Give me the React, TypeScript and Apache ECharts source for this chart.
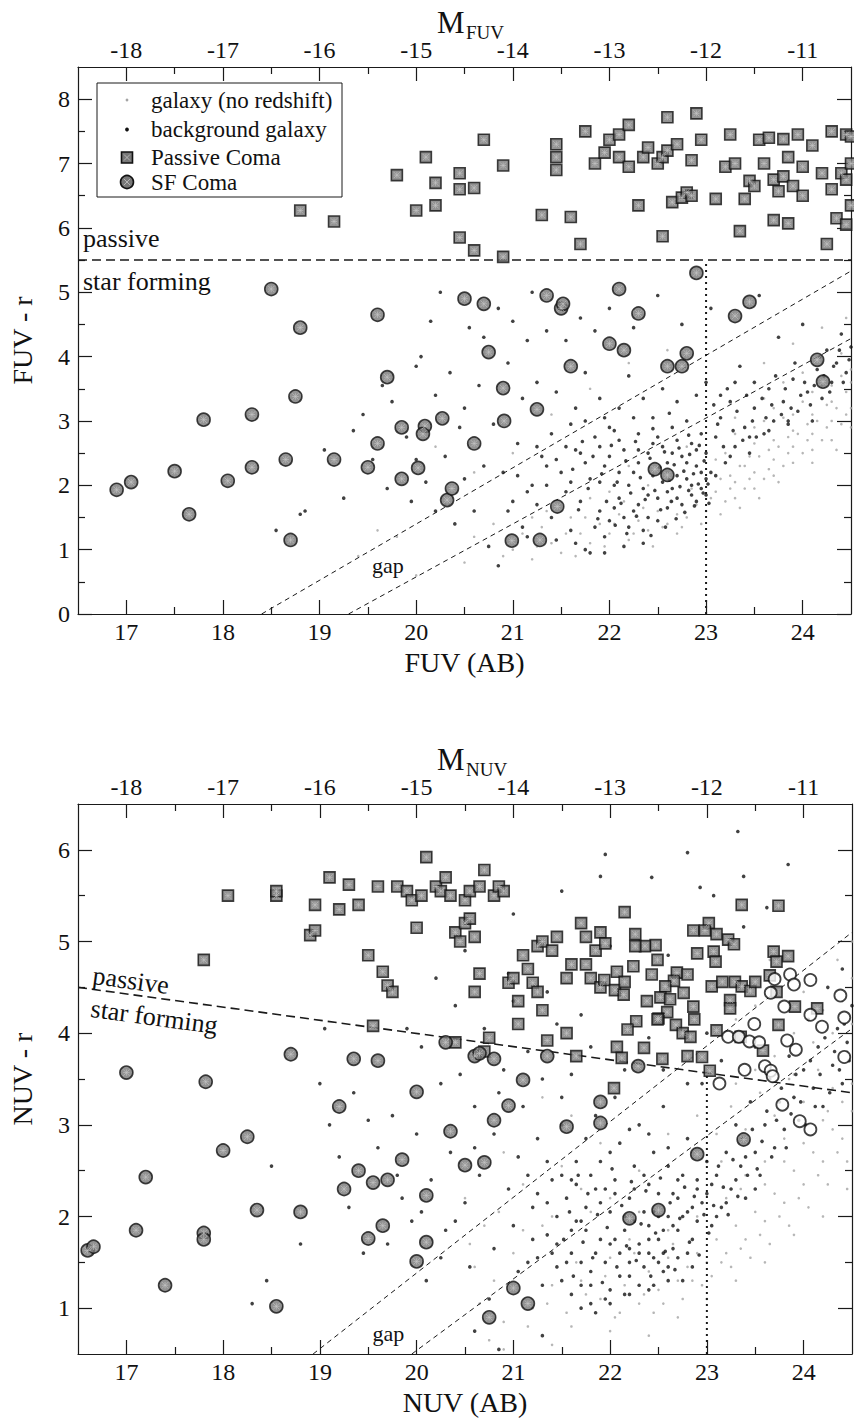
import React, { useEffect, useRef } from "react";
import * as echarts from "echarts";

const FONT = "Liberation Serif";

// ---------- tick values ----------
const MAG_TICKS = [17, 18, 19, 20, 21, 22, 23, 24];
const MAG_MINOR = [17.5, 18.5, 19.5, 20.5, 21.5, 22.5, 23.5];
const ABS_TICKS = [-18, -17, -16, -15, -14, -13, -12, -11];
const ABS_MINOR = [-17.5, -16.5, -15.5, -14.5, -13.5, -12.5, -11.5];
const FUV_COLOR_TICKS = [0, 1, 2, 3, 4, 5, 6, 7, 8];
const FUV_COLOR_MINOR = [0.5, 1.5, 2.5, 3.5, 4.5, 5.5, 6.5, 7.5];
const NUV_COLOR_TICKS = [1, 2, 3, 4, 5, 6];
const NUV_COLOR_MINOR = [1.5, 2.5, 3.5, 4.5, 5.5];

// ---------- FUV panel data: [FUV, FUV-r] ----------
const fuvPassive = [
  [18.8, 6.27], [19.15, 6.1], [19.8, 6.82], [20.0, 6.27], [20.1, 7.1], [20.2, 6.35], [20.2, 6.7],
  [20.45, 6.85], [20.45, 5.85], [20.45, 6.6], [20.6, 6.62], [20.6, 5.65], [20.7, 7.37], [20.9, 5.55],
  [20.9, 6.97], [21.3, 6.2], [21.45, 7.3], [21.45, 7.1], [21.45, 6.9], [21.6, 6.17], [21.7, 5.75],
  [21.75, 7.5], [21.85, 7.0], [21.95, 7.17], [22.0, 7.37], [22.1, 7.1], [22.1, 7.45], [22.2, 7.6],
  [22.2, 6.95], [22.3, 6.35], [22.35, 7.1], [22.4, 7.25], [22.5, 7.0], [22.55, 7.1], [22.6, 7.2],
  [22.55, 5.87], [22.6, 7.72], [22.65, 6.4], [22.7, 7.3], [22.75, 6.47], [22.8, 6.55], [22.85, 7.05],
  [22.85, 6.5], [22.9, 7.78], [22.95, 7.37], [23.1, 6.45], [23.2, 6.95], [23.25, 7.45], [23.3, 7.0],
  [23.35, 5.95], [23.4, 6.45], [23.45, 6.73], [23.5, 6.65], [23.55, 7.37], [23.6, 7.0], [23.65, 7.4],
  [23.7, 6.12], [23.7, 6.75], [23.75, 6.57], [23.8, 7.38], [23.8, 6.8], [23.85, 6.07], [23.85, 7.1],
  [23.9, 6.65], [23.95, 7.45], [24.0, 6.95], [24.0, 6.5], [24.1, 7.28], [24.2, 6.85], [24.25, 5.75],
  [24.3, 6.6], [24.3, 7.5], [24.4, 6.85], [24.45, 7.45], [24.45, 6.75], [24.35, 6.15], [24.45, 6.05],
  [24.5, 7.42], [24.5, 6.35], [24.5, 7.0],
];
const fuvSF = [
  [16.9, 1.93], [17.05, 2.05], [17.5, 2.22], [17.65, 1.55], [17.8, 3.02], [18.05, 2.07], [18.3, 3.1],
  [18.3, 2.28], [18.5, 5.05], [18.65, 2.4], [18.7, 1.15], [18.75, 3.38], [18.8, 4.45], [19.15, 2.4],
  [19.5, 2.28], [19.6, 2.65], [19.6, 4.65], [19.7, 3.68], [19.85, 2.9], [19.85, 2.1], [20.02, 2.27],
  [20.09, 2.92], [20.07, 2.8], [20.27, 3.04], [20.32, 1.77], [20.37, 1.95], [20.5, 4.9], [20.6, 2.65],
  [20.7, 4.82], [20.75, 4.07], [20.9, 3.51], [20.91, 3.0], [20.99, 1.14], [21.25, 3.18], [21.28, 1.15],
  [21.35, 4.95], [21.5, 4.75], [21.52, 4.82], [21.46, 1.67], [21.6, 3.85], [22.0, 4.2], [22.1, 5.05],
  [22.15, 4.1], [22.3, 4.67], [22.47, 2.25], [22.6, 3.85], [22.6, 2.16], [22.75, 3.85], [22.8, 4.05],
  [22.9, 5.3], [23.3, 4.63], [23.45, 4.85], [24.15, 3.95], [24.21, 3.61],
];
const fuvBackground = [
  [18.55, 1.3], [18.8, 1.55], [18.85, 1.6], [19.05, 2.55], [19.25, 1.8], [19.35, 2.85], [19.45, 3.1],
  [19.55, 2.4], [19.65, 3.55], [19.7, 1.95], [19.75, 3.3], [19.9, 2.75], [19.95, 1.75], [20.0, 3.85],
  [20.0, 2.4], [20.05, 4.0], [20.1, 2.05], [20.15, 4.55], [20.2, 3.4], [20.2, 1.6], [20.25, 5.0],
  [20.3, 2.45], [20.35, 3.75], [20.4, 1.4], [20.45, 2.9], [20.5, 3.2], [20.5, 2.1], [20.55, 4.45],
  [20.6, 1.6], [20.65, 3.55], [20.7, 2.3], [20.7, 4.3], [20.75, 1.05], [20.8, 2.95], [20.85, 0.75],
  [20.85, 4.75], [20.9, 2.2], [20.95, 3.9], [21.0, 1.75], [21.0, 4.55], [21.05, 2.65], [21.1, 1.35],
  [21.1, 3.35], [21.15, 4.25], [21.2, 2.0], [21.2, 5.0], [21.25, 3.6], [21.3, 2.45], [21.35, 4.4],
  [21.4, 2.8], [21.4, 1.5], [21.45, 3.45], [21.5, 2.2], [21.55, 4.25], [21.6, 2.95], [21.6, 1.3],
  [21.65, 3.2], [21.7, 4.6], [21.7, 2.5], [21.75, 1.0], [21.75, 3.75], [21.8, 2.1], [21.8, 0.95],
  [21.85, 2.75], [21.85, 4.4], [21.9, 1.6], [21.9, 3.35], [21.95, 2.3], [22.0, 1.45], [22.0, 2.9],
  [22.0, 4.75], [22.05, 2.0], [22.1, 3.2], [22.1, 1.8], [22.15, 2.55], [22.2, 1.35], [22.2, 3.7],
  [22.25, 2.2], [22.25, 4.45], [22.3, 1.7], [22.3, 2.8], [22.35, 3.35], [22.35, 1.95], [22.4, 2.5],
  [22.4, 1.5], [22.45, 3.05], [22.45, 2.15], [22.5, 1.8], [22.5, 4.95], [22.55, 2.6], [22.55, 3.5],
  [22.6, 1.65], [22.6, 2.35], [22.65, 2.9], [22.65, 1.95], [22.7, 3.3], [22.7, 1.8], [22.75, 2.45],
  [22.75, 4.5], [22.8, 2.1], [22.8, 3.0], [22.85, 1.85], [22.85, 2.65], [22.9, 2.3], [22.9, 3.4],
  [22.95, 1.95], [22.95, 2.8], [23.0, 2.5], [23.0, 3.6], [23.05, 2.2], [23.05, 4.75], [23.1, 2.75],
  [23.15, 3.05], [23.2, 2.35], [23.25, 3.3], [23.3, 2.6], [23.35, 3.85], [23.4, 2.9], [23.45, 2.5],
  [23.5, 3.2], [23.55, 4.95], [23.6, 2.8], [23.65, 3.5], [23.7, 3.0], [23.75, 4.3], [23.8, 3.3],
  [23.85, 2.95], [23.9, 3.65], [23.95, 3.15], [24.0, 4.5], [24.05, 3.45], [24.1, 3.0], [24.15, 3.8],
  [24.2, 3.35], [24.25, 4.1], [24.3, 3.6], [24.35, 3.9], [24.4, 4.35], [24.45, 3.75], [24.5, 4.15],
  [21.6, 2.05], [21.7, 1.75], [21.75, 2.35], [21.85, 1.35], [21.9, 2.05], [21.95, 1.2], [22.0, 2.45],
  [22.05, 1.65], [22.1, 2.2], [22.15, 1.5], [22.2, 2.0], [22.25, 1.6], [22.3, 2.35], [22.35, 1.3],
  [22.4, 1.85], [22.45, 2.65], [22.5, 1.45], [22.55, 2.05], [22.6, 1.9], [22.65, 2.5], [22.7, 2.15],
  [22.75, 1.7], [22.8, 2.35], [22.85, 2.0], [22.9, 1.75], [22.95, 2.2], [23.0, 1.85], [23.0, 2.1],
  [22.9, 2.55], [22.7, 2.7], [22.5, 2.75], [22.3, 2.55], [22.1, 2.7], [21.9, 2.6], [21.65, 2.55],
  [21.45, 2.4], [21.35, 2.0], [21.25, 1.7], [21.15, 1.9],
  [21.55, 1.9], [21.62, 2.25], [21.68, 1.62], [21.72, 2.68], [21.78, 1.95], [21.83, 2.45], [21.88, 1.48],
  [21.92, 2.18], [21.97, 1.75], [22.02, 2.62], [22.06, 1.38], [22.08, 2.05], [22.12, 1.72], [22.17, 2.38],
  [22.18, 1.25], [22.22, 1.88], [22.27, 2.68], [22.28, 1.52], [22.32, 2.12], [22.37, 1.78], [22.42, 2.42],
  [22.43, 1.22], [22.47, 1.92], [22.52, 2.28], [22.53, 1.62], [22.57, 2.52], [22.58, 1.35], [22.62, 2.08],
  [22.64, 1.75], [22.67, 2.32], [22.69, 1.48], [22.72, 2.58], [22.73, 1.98], [22.77, 2.22], [22.78, 1.58],
  [22.82, 1.92], [22.83, 2.48], [22.87, 2.18], [22.88, 1.68], [22.92, 2.02], [22.93, 2.62], [22.97, 1.88],
  [22.98, 2.38], [23.02, 2.02], [23.03, 1.72], [22.05, 2.85], [22.25, 3.05], [22.45, 2.88], [22.62, 3.12],
  [22.82, 2.78], [21.95, 3.05], [21.75, 3.0], [21.55, 2.6], [21.35, 2.3], [21.25, 2.6], [21.05, 2.15],
  [20.95, 1.6], [21.15, 1.2], [21.45, 1.15], [21.65, 1.1], [21.95, 0.95], [22.15, 1.05], [22.35, 1.1],
  [23.08, 3.25], [23.12, 2.95], [23.18, 2.6], [23.22, 3.5], [23.28, 2.85], [23.32, 3.15], [23.38, 2.7],
  [23.42, 3.4], [23.48, 3.0], [23.52, 2.75], [23.58, 3.35], [23.62, 3.05], [23.68, 3.25], [23.72, 3.7],
  [23.78, 3.1], [23.82, 3.5], [23.88, 3.2], [23.92, 3.9], [23.98, 3.4], [24.02, 3.6], [24.08, 3.25],
  [24.12, 3.55], [24.18, 4.0], [24.22, 3.7], [24.28, 3.45], [24.32, 3.85], [24.38, 4.1], [24.42, 3.6],
  [24.48, 3.95], [23.5, 3.6], [23.3, 3.6], [23.15, 3.4], [23.25, 2.45], [23.1, 2.15], [23.45, 2.75],
  [23.65, 2.85], [23.85, 3.0],
];
const fuvNoRedshift = [
  [20.3, 1.7], [20.6, 1.2], [20.9, 0.9], [21.0, 1.0], [21.2, 0.85], [21.3, 1.35], [21.4, 1.1],
  [21.5, 0.95], [21.6, 1.5], [21.7, 1.25], [21.8, 1.1], [21.9, 1.4], [22.0, 1.25], [22.1, 1.55],
  [22.2, 1.15], [22.3, 1.45], [22.4, 1.3], [22.5, 1.6], [22.6, 1.4], [22.7, 1.55], [22.8, 1.5],
  [22.9, 1.7], [23.0, 1.6], [23.1, 1.9], [23.2, 1.75], [23.3, 2.05], [23.4, 1.95], [23.5, 2.2],
  [23.6, 2.1], [23.7, 2.4], [23.8, 2.3], [23.9, 2.6], [24.0, 2.5], [24.1, 2.8], [24.2, 2.7],
  [24.3, 3.0], [24.4, 2.95], [24.5, 3.2], [23.2, 2.5], [23.3, 2.8], [23.4, 2.3], [23.5, 2.65],
  [23.6, 3.0], [23.7, 2.7], [23.8, 3.05], [23.9, 2.85], [24.0, 3.3], [24.1, 3.1], [24.2, 3.55],
  [24.3, 3.3], [24.4, 3.7], [24.5, 3.6], [23.1, 2.4], [23.25, 2.15], [23.45, 2.45], [23.65, 2.55],
  [23.85, 2.75], [24.05, 2.95], [24.25, 3.25], [24.45, 3.45], [22.0, 1.9], [22.2, 2.3], [22.4, 2.0],
  [22.6, 2.2], [22.8, 2.6], [21.8, 1.8], [21.5, 1.6], [21.2, 1.5], [20.8, 1.4], [20.5, 0.8],
  [19.8, 1.2], [20.2, 2.6], [20.6, 2.2], [21.0, 2.5], [21.4, 3.1], [21.8, 3.5], [22.2, 3.9],
  [22.6, 4.1], [23.0, 4.3], [23.3, 4.6], [23.6, 3.9], [23.9, 4.2], [24.2, 4.45], [24.45, 4.6],
  [24.35, 2.55], [24.1, 2.35], [23.75, 2.05], [23.55, 1.8], [22.45, 1.05], [22.7, 1.25],
  [22.95, 1.4], [23.15, 1.55], [23.35, 1.65], [19.6, 1.3], [19.4, 0.9], [20.0, 0.6],
  [21.1, 1.25], [21.25, 1.05], [21.35, 1.6], [21.55, 1.25], [21.65, 0.9], [21.75, 1.5], [21.95, 1.05],
  [22.05, 1.4], [22.15, 1.75], [22.25, 1.25], [22.35, 1.65], [22.55, 1.35], [22.65, 1.75], [22.75, 1.35],
  [22.85, 1.95], [23.05, 1.8], [23.15, 2.1], [23.25, 1.95], [23.35, 2.3], [23.45, 2.1], [23.55, 2.45],
  [23.65, 2.25], [23.75, 2.6], [23.85, 2.5], [23.95, 2.8], [24.05, 2.7], [24.15, 3.0], [24.25, 2.9],
  [24.35, 3.2], [24.45, 3.1], [23.3, 3.05], [23.5, 2.9], [23.7, 3.2], [23.9, 3.1], [24.1, 3.45],
  [24.3, 3.55], [24.5, 3.8], [23.6, 3.35], [23.8, 3.6], [24.0, 3.75], [24.2, 3.9], [24.4, 4.05],
  [24.5, 2.9], [24.3, 2.7], [24.1, 2.55], [23.9, 2.35], [23.7, 2.15], [23.5, 1.95], [23.3, 1.8],
];

// ---------- NUV panel data: [NUV, NUV-r] ----------
const nuvPassive = [
  [17.8, 4.8], [18.05, 5.5], [18.55, 5.5], [18.55, 5.55], [18.9, 5.07], [18.95, 5.12], [18.95, 5.4],
  [19.1, 5.7], [19.2, 5.35], [19.3, 5.62], [19.4, 5.4], [19.5, 4.85], [19.55, 4.08], [19.6, 5.6],
  [19.65, 4.67], [19.7, 4.52], [19.75, 4.45], [19.8, 5.6], [19.9, 5.55], [19.95, 5.45], [20.0, 5.15],
  [20.05, 5.5], [20.1, 5.92], [20.2, 5.6], [20.25, 5.55], [20.3, 5.7], [20.35, 5.5], [20.4, 5.1],
  [20.4, 3.9], [20.45, 5.0], [20.5, 5.2], [20.5, 5.45], [20.55, 5.25], [20.55, 5.55], [20.6, 4.45],
  [20.6, 5.05], [20.65, 5.6], [20.65, 4.65], [20.7, 5.78], [20.7, 3.8], [20.75, 3.95], [20.8, 5.5],
  [20.85, 5.6], [20.9, 5.55], [20.95, 4.55], [21.0, 4.6], [21.05, 4.1], [21.05, 4.35], [21.1, 4.85],
  [21.15, 4.7], [21.2, 4.55], [21.25, 4.45], [21.25, 4.95], [21.3, 5.0], [21.3, 4.25], [21.35, 3.92],
  [21.4, 4.9], [21.45, 5.05], [21.55, 4.6], [21.55, 4.0], [21.6, 4.75], [21.65, 3.75], [21.7, 5.2],
  [21.75, 5.05], [21.75, 4.75], [21.8, 4.6], [21.85, 4.9], [21.9, 5.1], [21.9, 4.5], [21.95, 4.98],
  [22.15, 5.32], [23.36, 5.4], [23.74, 5.39], [22.26, 5.08], [23.02, 5.2], [22.86, 5.12], [22.98, 5.12],
  [23.1, 5.08], [23.22, 5.02], [23.28, 4.97], [22.47, 4.96], [22.36, 4.95], [22.26, 4.95], [22.49, 4.8],
  [22.9, 4.87], [23.07, 4.89], [23.09, 4.78], [23.69, 4.89], [23.72, 4.78], [23.84, 4.84], [22.24, 4.73],
  [22.07, 4.67], [21.94, 4.58], [22.05, 4.47], [22.15, 4.56], [22.14, 4.42], [22.43, 4.64], [22.69, 4.66],
  [22.8, 4.64], [22.66, 4.57], [22.57, 4.51], [22.52, 4.39], [22.62, 4.37], [22.76, 4.44], [22.38, 4.35],
  [23.05, 4.51], [23.16, 4.56], [23.29, 4.56], [23.36, 4.51], [23.45, 4.46], [23.5, 4.56], [23.65, 4.63],
  [23.72, 4.45], [23.24, 4.36], [23.24, 4.27], [23.91, 4.29], [24.14, 4.27], [22.59, 4.23], [22.5, 4.16],
  [22.49, 4.15], [22.86, 4.29], [22.87, 4.15], [22.27, 4.13], [22.18, 4.04], [22.68, 4.09], [22.75, 4.0],
  [22.83, 3.96], [23.1, 4.03], [23.35, 3.96], [23.74, 4.09], [22.07, 3.85], [22.12, 3.73], [22.35, 3.84],
  [22.54, 3.72], [22.8, 3.75], [22.95, 3.74], [23.58, 3.81], [23.03, 3.59], [22.04, 3.4],
];
const nuvSF = [
  [16.6, 1.63], [16.66, 1.67], [17.0, 3.57], [17.1, 1.85], [17.2, 2.43], [17.4, 1.25], [17.8, 1.82],
  [17.8, 1.75], [17.82, 3.47], [18.0, 2.72], [18.25, 2.87], [18.35, 2.07], [18.55, 1.02], [18.7, 3.77],
  [18.8, 2.05], [19.2, 3.2], [19.25, 2.3], [19.35, 3.72], [19.4, 2.5], [19.5, 1.76], [19.55, 2.37],
  [19.6, 3.7], [19.65, 1.9], [19.7, 2.4], [19.85, 2.62], [20.0, 3.36], [20.0, 1.51], [20.1, 1.72],
  [20.1, 2.23], [20.3, 3.9], [20.35, 2.93], [20.5, 2.56], [20.6, 3.75], [20.65, 3.78], [20.7, 2.59],
  [20.75, 0.9], [20.8, 3.72], [20.8, 3.05], [20.95, 3.21], [21.0, 1.22], [21.1, 3.49], [21.15, 1.05],
  [21.35, 3.75], [21.55, 2.98], [21.9, 3.25], [21.9, 3.02], [22.2, 1.98], [22.29, 3.64], [22.5, 2.07],
  [22.9, 2.68], [23.38, 2.84],
];
const nuvUnclassified = [
  [23.86, 4.64], [23.9, 4.53], [24.07, 4.58], [23.7, 4.59], [23.66, 4.44], [24.38, 4.41], [23.8, 4.29],
  [24.07, 4.2], [24.42, 4.17], [24.19, 4.07], [23.49, 4.1], [23.22, 3.96], [23.33, 3.96], [23.44, 3.91],
  [23.54, 3.9], [23.83, 3.92], [23.92, 3.82], [24.42, 3.74], [23.6, 3.64], [23.66, 3.59], [23.39, 3.6],
  [23.68, 3.53], [23.13, 3.45], [23.78, 3.22], [23.96, 3.04], [24.07, 2.95],
];
const nuvBackground = [
  [18.3, 1.05], [18.45, 1.3], [18.5, 2.55], [19.05, 4.05], [19.1, 3.0], [19.3, 2.1], [19.35, 3.35],
  [19.45, 1.6], [19.6, 2.75], [19.7, 1.7], [19.75, 3.1], [19.85, 2.2], [19.9, 4.05], [19.95, 1.95],
  [20.0, 2.9], [20.05, 3.85], [20.1, 1.3], [20.15, 2.4], [20.2, 4.6], [20.25, 3.45], [20.3, 1.85],
  [20.35, 2.7], [20.4, 4.3], [20.45, 3.55], [20.5, 2.15], [20.55, 1.45], [20.6, 0.75], [20.6, 3.2],
  [20.65, 2.45], [20.7, 4.05], [20.75, 1.1], [20.8, 1.65], [20.8, 2.9], [20.85, 0.55], [20.9, 3.6],
  [20.95, 2.3], [21.0, 1.9], [21.0, 4.35], [21.05, 2.65], [21.1, 3.2], [21.15, 1.5], [21.2, 2.1],
  [21.25, 2.85], [21.3, 0.7], [21.3, 3.5], [21.35, 1.8], [21.4, 2.4], [21.45, 4.1], [21.5, 1.3],
  [21.5, 3.0], [21.55, 2.2], [21.6, 1.6], [21.6, 3.55], [21.65, 2.6], [21.7, 1.0], [21.7, 1.95],
  [21.75, 2.85], [21.8, 1.4], [21.8, 3.85], [21.85, 2.3], [21.85, 0.95], [21.9, 1.75], [21.9, 2.6],
  [21.95, 5.95], [22.0, 1.2], [22.0, 2.05], [22.05, 2.4], [22.05, 3.3], [22.1, 1.6], [22.1, 2.8],
  [22.15, 1.85], [22.2, 1.35], [22.2, 2.2], [22.25, 2.55], [22.3, 1.7], [22.3, 3.0], [22.35, 1.45],
  [22.35, 2.05], [22.4, 2.35], [22.4, 1.9], [22.45, 1.55], [22.45, 2.7], [22.5, 1.75], [22.5, 2.25],
  [22.55, 1.4], [22.55, 3.2], [22.6, 2.0], [22.6, 2.55], [22.65, 1.65], [22.7, 2.2], [22.7, 1.85],
  [22.75, 2.45], [22.8, 1.6], [22.8, 2.85], [22.85, 2.1], [22.9, 1.95], [22.9, 2.4], [22.95, 3.45],
  [23.0, 2.25], [23.0, 2.6], [23.05, 1.9], [23.1, 2.45], [23.15, 2.1], [23.2, 2.7], [23.25, 2.3],
  [23.3, 3.0], [23.35, 2.55], [23.4, 2.2], [23.45, 3.25], [23.5, 2.7], [23.55, 2.45], [23.6, 3.0],
  [23.65, 3.5], [23.7, 2.75], [23.75, 3.25], [23.8, 2.95], [23.85, 3.75], [23.9, 3.3], [23.95, 3.05],
  [24.0, 3.6], [24.05, 4.15], [24.1, 3.4], [24.15, 3.85], [24.2, 3.2], [24.3, 3.65], [24.35, 4.05],
  [24.4, 3.45], [24.45, 3.9], [24.5, 4.3], [20.5, 4.9], [21.0, 5.3], [21.5, 5.55], [21.9, 5.71],
  [22.0, 4.95], [22.43, 5.7], [22.8, 5.97], [22.93, 5.59], [23.07, 5.5], [23.32, 6.2], [23.38, 5.71],
  [23.38, 5.16], [23.62, 5.37], [23.84, 5.84], [22.6, 4.85], [23.0, 4.0], [22.4, 3.95], [22.8, 3.45],
  [23.5, 3.85], [23.15, 3.7], [24.25, 4.5], [24.4, 4.7], [21.6, 1.85], [21.7, 1.5], [21.75, 2.1],
  [21.8, 1.25], [21.95, 1.5], [22.05, 1.75], [22.15, 1.15], [22.2, 1.65], [22.25, 1.95], [22.3, 1.25],
  [22.4, 1.6], [22.45, 2.05], [22.5, 1.5], [22.55, 1.85], [22.6, 1.3], [22.65, 2.25], [22.7, 1.55],
  [22.75, 2.0], [22.85, 1.75], [22.95, 2.15], [23.05, 2.35], [23.1, 2.0], [23.2, 2.15], [23.3, 2.4],
  [23.4, 2.65], [23.5, 2.3], [21.95, 2.3], [21.65, 2.35], [21.45, 1.7], [21.25, 1.55], [21.05, 1.4],
  [21.52, 1.75], [21.58, 2.05], [21.62, 1.35], [21.67, 2.45], [21.72, 1.72], [21.77, 2.25], [21.82, 1.55],
  [21.87, 2.02], [21.92, 1.28], [21.97, 1.88], [22.02, 2.52], [22.07, 1.45], [22.12, 2.12], [22.17, 1.68],
  [22.22, 2.38], [22.27, 1.52], [22.32, 1.92], [22.37, 2.28], [22.42, 1.35], [22.47, 1.82], [22.52, 2.42],
  [22.57, 1.62], [22.62, 2.15], [22.67, 1.42], [22.72, 1.98], [22.77, 2.32], [22.82, 1.72], [22.87, 2.22],
  [22.92, 1.58], [22.97, 2.02], [23.02, 1.82], [23.07, 2.12], [23.12, 2.55], [23.17, 2.32], [23.22, 2.02],
  [23.27, 2.62], [23.32, 2.22], [23.37, 2.85], [23.42, 2.45], [23.47, 2.95], [23.52, 2.52], [23.57, 2.82],
  [23.62, 3.15], [23.67, 2.65], [23.72, 3.05], [23.77, 3.4], [23.82, 2.75], [23.87, 3.12], [23.92, 3.55],
  [23.97, 3.25], [24.02, 3.0], [24.07, 3.7], [24.12, 3.2], [24.17, 3.55], [24.22, 3.95], [24.27, 3.35],
  [24.32, 3.8], [24.37, 3.6], [24.42, 4.1], [24.47, 3.7], [21.35, 2.6], [21.25, 2.25], [21.15, 2.45],
  [21.45, 2.0], [21.3, 1.25], [21.45, 1.45], [21.6, 1.15], [21.8, 1.05], [22.0, 1.05], [22.2, 1.15],
  [22.4, 1.2], [22.6, 2.75], [22.4, 2.9], [22.2, 2.95], [22.0, 2.7], [21.85, 3.1], [21.5, 3.3],
  [21.15, 3.8], [20.85, 3.35], [20.6, 2.75], [20.4, 1.95], [20.25, 1.55], [20.05, 2.05], [19.8, 2.45],
  [19.5, 3.05], [19.2, 2.65], [19.0, 3.45], [18.8, 1.7], [20.95, 4.65], [21.35, 4.45], [21.7, 4.2],
  [22.15, 3.6], [22.55, 3.6],
  [21.55, 1.5], [21.6, 2.4], [21.65, 1.95], [21.7, 1.25], [21.75, 1.85], [21.8, 2.45], [21.85, 1.6],
  [21.9, 2.15], [21.95, 1.1], [22.0, 1.7], [22.05, 2.25], [22.1, 1.35], [22.15, 2.0], [22.2, 1.5],
  [22.25, 2.3], [22.3, 1.6], [22.35, 2.45], [22.4, 1.75], [22.45, 1.25], [22.5, 2.0], [22.55, 1.6],
  [22.6, 1.45], [22.65, 1.9], [22.7, 2.4], [22.75, 1.3], [22.8, 2.05], [22.85, 1.45], [22.9, 2.3],
  [21.4, 1.6], [21.35, 2.15], [21.5, 2.45], [21.2, 1.75],
];
const nuvNoRedshift = [
  [20.5, 2.2], [20.7, 1.9], [20.8, 1.3], [20.9, 0.85], [21.0, 1.6], [21.1, 2.35], [21.2, 1.0],
  [21.3, 1.9], [21.4, 1.25], [21.5, 2.55], [21.6, 0.8], [21.7, 1.3], [21.8, 2.05], [21.9, 1.1],
  [22.0, 1.55], [22.1, 0.95], [22.2, 1.75], [22.3, 1.05], [22.4, 1.4], [22.5, 1.2], [22.6, 1.55],
  [22.7, 1.3], [22.8, 1.45], [22.9, 1.6], [23.0, 1.5], [23.1, 1.75], [23.2, 1.6], [23.3, 1.9],
  [23.4, 1.75], [23.5, 2.05], [23.6, 1.95], [23.7, 2.25], [23.8, 2.15], [23.9, 2.5], [24.0, 2.35],
  [24.1, 2.7], [24.2, 2.6], [24.3, 2.95], [24.4, 2.85], [24.5, 3.15], [23.1, 2.9], [23.25, 3.2],
  [23.4, 2.95], [23.55, 3.35], [23.7, 3.1], [23.85, 3.5], [24.0, 3.25], [24.15, 3.6], [24.3, 3.4],
  [24.45, 3.8], [23.5, 4.3], [23.9, 4.0], [24.2, 4.25], [24.4, 4.35], [24.5, 4.6], [23.3, 4.15],
  [23.15, 2.6], [23.35, 2.3], [23.6, 2.6], [23.8, 2.85], [24.05, 3.0], [24.25, 3.15], [24.5, 3.45],
  [22.3, 2.5], [22.6, 2.9], [22.9, 3.1], [21.9, 2.8], [21.6, 3.1], [21.3, 3.3], [20.9, 2.7],
  [20.6, 1.45], [22.4, 0.7], [22.7, 0.9], [23.0, 1.1], [23.3, 1.3], [23.6, 1.5], [23.9, 1.8],
  [24.2, 2.0], [24.45, 2.3], [21.4, 0.6], [20.9, 0.55], [22.0, 0.75],
  [21.15, 0.8], [21.35, 1.05], [21.55, 0.95], [21.65, 1.5], [21.75, 1.15], [21.95, 1.35], [22.05, 0.9],
  [22.15, 1.25], [22.25, 1.6], [22.35, 1.15], [22.45, 0.95], [22.55, 1.05], [22.65, 1.7], [22.75, 1.1],
  [22.85, 1.3], [22.95, 1.25], [23.05, 1.35], [23.15, 1.5], [23.25, 1.45], [23.35, 1.65], [23.45, 1.55],
  [23.55, 1.8], [23.65, 1.7], [23.75, 2.0], [23.85, 1.9], [23.95, 2.2], [24.05, 2.1], [24.15, 2.45],
  [24.25, 2.35], [24.35, 2.7], [24.45, 2.6], [23.2, 2.2], [23.4, 2.45], [23.6, 2.35], [23.8, 2.6],
  [24.0, 2.8], [24.2, 3.05], [24.4, 3.25], [23.3, 3.45], [23.5, 3.6], [23.7, 3.75], [23.9, 3.55],
  [24.1, 3.9], [24.3, 4.0], [24.5, 4.1], [23.45, 4.55], [23.65, 4.8], [24.0, 4.45], [24.35, 4.8],
  [24.5, 5.0], [22.9, 2.0], [22.6, 1.85], [22.3, 2.05], [22.0, 2.2], [21.7, 2.3], [21.4, 2.0],
  [21.1, 1.85], [20.85, 2.05], [20.55, 1.7], [20.65, 1.05], [20.75, 0.65],
];

// ---------- reference lines ----------
const fuvDivider = [[16.5, 5.5], [24.5, 5.5]];
const fuvGapUpper = [[18.4, 0], [24.5, 5.33]];
const fuvGapLower = [[19.3, 0], [24.5, 4.28]];
const fuvLimit = [[23, 0], [23, 5.5]];
const nuvDivider = [[16.5, 4.5], [24.5, 3.35]];
const nuvGapUpper = [[18.93, 0.5], [24.5, 5.1]];
const nuvGapLower = [[19.95, 0.5], [24.5, 4.05]];
const nuvLimit = [[23, 0.5], [23, 3.57]];

// ---------- layout ----------
const G1 = { left: 77, top: 67, width: 774, height: 547, xmin: 16.5, xmax: 24.5, ymin: 0, ymax: 8.5 };
const G2 = { left: 77, top: 804, width: 775, height: 550, xmin: 16.5, xmax: 24.5, ymin: 0.5, ymax: 6.5 };
const pxX = (g: any, v: number) => g.left + ((v - g.xmin) / (g.xmax - g.xmin)) * g.width;
const pxY = (g: any, v: number) => g.top + ((g.ymax - v) / (g.ymax - g.ymin)) * g.height;

const INK = "#1a1a1a";
const lineStyle = { color: INK, width: 1.2 };

function axisPair(kind: "x" | "y", gridIndex: number, position: string, min: number, max: number,
  major: number[], minor: number[], showLabels: boolean, extra: any = {}) {
  const base = {
    type: "value", gridIndex, position, min, max,
    splitLine: { show: false },
    axisLine: { show: true, onZero: false, lineStyle },
  };
  return [
    {
      ...base,
      axisTick: { show: true, inside: true, length: 14, customValues: major, lineStyle },
      axisLabel: {
        show: showLabels, customValues: major, fontFamily: FONT, fontSize: 24, color: "#111",
        margin: kind === "x" ? (position === "top" ? 5 : 6) : 8,
      },
      ...extra,
    },
    {
      ...base,
      axisLine: { show: false, onZero: false },
      axisTick: { show: true, inside: true, length: 7, customValues: minor, lineStyle },
      axisLabel: { show: false },
    },
  ];
}

const nameStyle = { fontFamily: FONT, fontSize: 28, color: "#111" };

function refLine(data: number[][], xi: number, yi: number, style: any) {
  return {
    type: "line", data, xAxisIndex: xi, yAxisIndex: yi, symbol: "none", silent: true,
    lineStyle: { color: INK, ...style }, z: 3,
  };
}

function scatter(data: number[][], xi: number, yi: number, opts: any) {
  return { type: "scatter", data, xAxisIndex: xi, yAxisIndex: yi, silent: true, ...opts };
}

const MARK_FILL = "#777777";
const HATCH = "path://M0,0L10,10M10,0L0,10M5,0L5,10M0,5L10,5";
const passiveStyle = { symbol: "rect", symbolSize: 11, itemStyle: { color: MARK_FILL, borderColor: "#111", borderWidth: 1.6 }, z: 5 };
const passiveHatch = { symbol: HATCH, symbolSize: 6, itemStyle: { color: "none", borderColor: "#c4c4c4", borderWidth: 0.8 }, z: 5.5 };
const sfStyle = { symbol: "circle", symbolSize: 13, itemStyle: { color: MARK_FILL, borderColor: "#111", borderWidth: 1.6 }, z: 6 };
const sfHatch = { symbol: HATCH, symbolSize: 6.5, itemStyle: { color: "none", borderColor: "#c4c4c4", borderWidth: 0.8 }, z: 6.5 };
const openStyle = { symbol: "circle", symbolSize: 12, itemStyle: { color: "#ffffff", borderColor: "#111", borderWidth: 1.8 }, z: 7 };
const bgStyle = { symbol: "circle", symbolSize: 3.6, itemStyle: { color: "#111" }, z: 2 };
const nzStyle = { symbol: "circle", symbolSize: 2.6, itemStyle: { color: "#a4a4a4" }, z: 1 };

function textEl(text: string, x: number, y: number, size: number, extra: any = {}) {
  return {
    type: "text", x, y, z: 50,
    style: {
      text, font: `${size}px "${FONT}", serif`, fontFamily: FONT, fontSize: size,
      fill: "#111", align: "left", verticalAlign: "middle", ...extra,
    },
  };
}

export default function App() {
  const ref = useRef<HTMLDivElement>(null);
  useEffect(() => {
    document.body.style.margin = "0";
    const chart = echarts.init(ref.current!, null, { renderer: "svg" });

    const xAxes = [
      ...axisPair("x", 0, "bottom", 16.5, 24.5, MAG_TICKS, MAG_MINOR, true,
        { name: "FUV (AB)", nameLocation: "middle", nameGap: 34, nameTextStyle: nameStyle }),
      ...axisPair("x", 0, "top", -18.5, -10.5, ABS_TICKS, ABS_MINOR, true),
      ...axisPair("x", 1, "bottom", 16.5, 24.5, MAG_TICKS, MAG_MINOR, true,
        { name: "NUV (AB)", nameLocation: "middle", nameGap: 34, nameTextStyle: nameStyle }),
      ...axisPair("x", 1, "top", -18.5, -10.5, ABS_TICKS, ABS_MINOR, true),
    ];
    const yAxes = [
      ...axisPair("y", 0, "left", 0, 8.5, FUV_COLOR_TICKS, FUV_COLOR_MINOR, true,
        { name: "FUV - r", nameLocation: "middle", nameGap: 42, nameTextStyle: nameStyle }),
      ...axisPair("y", 0, "right", 0, 8.5, FUV_COLOR_TICKS, FUV_COLOR_MINOR, false),
      ...axisPair("y", 1, "left", 0.5, 6.5, NUV_COLOR_TICKS, NUV_COLOR_MINOR, true,
        { name: "NUV - r", nameLocation: "middle", nameGap: 42, nameTextStyle: nameStyle }),
      ...axisPair("y", 1, "right", 0.5, 6.5, NUV_COLOR_TICKS, NUV_COLOR_MINOR, false),
    ];

    const thinDash = { width: 1, type: [5, 4] };
    const boldDash = { width: 1.6, type: [9, 5] };
    const dotted = { width: 2, type: [2, 4] };

    const series = [
      scatter(fuvNoRedshift, 0, 0, nzStyle),
      scatter(fuvBackground, 0, 0, bgStyle),
      refLine(fuvDivider, 0, 0, boldDash),
      refLine(fuvGapUpper, 0, 0, thinDash),
      refLine(fuvGapLower, 0, 0, thinDash),
      refLine(fuvLimit, 0, 0, dotted),
      scatter(fuvPassive, 0, 0, passiveStyle),
      scatter(fuvPassive, 0, 0, passiveHatch),
      scatter(fuvSF, 0, 0, sfStyle),
      scatter(fuvSF, 0, 0, sfHatch),

      scatter(nuvNoRedshift, 4, 4, nzStyle),
      scatter(nuvBackground, 4, 4, bgStyle),
      refLine(nuvDivider, 4, 4, boldDash),
      refLine(nuvGapUpper, 4, 4, thinDash),
      refLine(nuvGapLower, 4, 4, thinDash),
      refLine(nuvLimit, 4, 4, dotted),
      scatter(nuvPassive, 4, 4, passiveStyle),
      scatter(nuvPassive, 4, 4, passiveHatch),
      scatter(nuvSF, 4, 4, sfStyle),
      scatter(nuvSF, 4, 4, sfHatch),
      scatter(nuvUnclassified, 4, 4, openStyle),
    ];

    const angle = Math.atan2(pxY(G2, 3.35) - pxY(G2, 4.5), pxX(G2, 24.5) - pxX(G2, 16.5));

    const legendX = 97, legendY = 83;
    const rows = [100, 129.5, 157.5, 182];
    const hatchLines = (cx: number, cy: number, r: number) => [
      { type: "line", z: 42, shape: { x1: cx - r, y1: cy - r, x2: cx + r, y2: cy + r }, style: { stroke: "#c4c4c4", lineWidth: 0.8 } },
      { type: "line", z: 42, shape: { x1: cx + r, y1: cy - r, x2: cx - r, y2: cy + r }, style: { stroke: "#c4c4c4", lineWidth: 0.8 } },
    ];
    const graphic = [
      // absolute-magnitude axis titles
      textEl("M", 437, 22, 31),
      textEl("FUV", 466, 32, 19),
      textEl("M", 437, 759, 31),
      textEl("NUV", 466, 769, 19),
      // legend
      { type: "rect", z: 40, shape: { x: legendX, y: legendY, width: 245, height: 114 },
        style: { fill: "#fff", stroke: INK, lineWidth: 1 } },
      { type: "circle", z: 41, shape: { cx: 127, cy: rows[0], r: 1.4 }, style: { fill: "#a4a4a4" } },
      { type: "circle", z: 41, shape: { cx: 127, cy: rows[1], r: 1.9 }, style: { fill: "#111" } },
      { type: "rect", z: 41, shape: { x: 121.5, y: rows[2] - 5.5, width: 11, height: 11 },
        style: { fill: MARK_FILL, stroke: "#111", lineWidth: 1.6 } },
      ...hatchLines(127, rows[2], 3),
      { type: "circle", z: 41, shape: { cx: 127, cy: rows[3], r: 6.5 },
        style: { fill: MARK_FILL, stroke: "#111", lineWidth: 1.6 } },
      ...hatchLines(127, rows[3], 3.2),
      textEl("galaxy (no redshift)", 151, rows[0], 23),
      textEl("background galaxy", 151, rows[1], 23),
      textEl("Passive Coma", 151, rows[2], 23),
      textEl("SF Coma", 151, rows[3], 23),
      // panel annotations
      textEl("passive", 83, pxY(G1, 5.84), 26),
      textEl("star forming", 83, pxY(G1, 5.17), 26),
      textEl("gap", pxX(G1, 19.55), pxY(G1, 0.75), 22),
      { ...textEl("passive", 93, pxY(G2, 4.63), 26), rotation: -angle },
      { ...textEl("star forming", 91, pxY(G2, 4.27), 26), rotation: -angle },
      textEl("gap", pxX(G2, 19.55), pxY(G2, 0.72), 22),
    ];

    chart.setOption({
      animation: false,
      backgroundColor: "#ffffff",
      grid: [
        { left: G1.left, top: G1.top, width: G1.width, height: G1.height },
        { left: G2.left, top: G2.top, width: G2.width, height: G2.height },
      ],
      xAxis: xAxes,
      yAxis: yAxes,
      series,
      graphic,
    });
    return () => chart.dispose();
  }, []);
  return <div ref={ref} style={{ width: 854, height: 1427 }} />;
}
